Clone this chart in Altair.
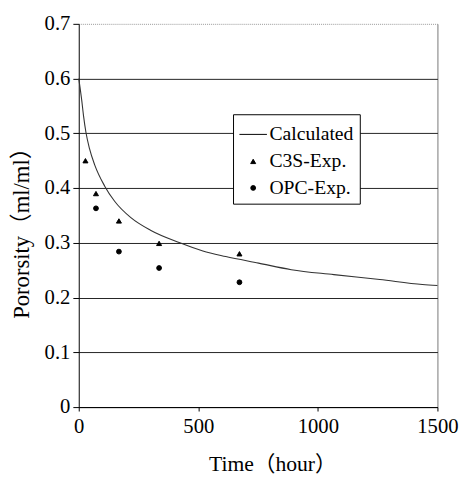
import altair as alt
import pandas as pd

# Calculated curve
calc_time = [0, 5, 12, 20, 30, 45, 67, 108, 150, 218, 300, 423, 519, 615, 752, 889, 1067, 1259, 1437, 1500]
calc_por = [0.600, 0.585, 0.562, 0.532, 0.502, 0.472, 0.442, 0.404, 0.376, 0.346, 0.323, 0.300,
            0.285, 0.275, 0.263, 0.251, 0.242, 0.233, 0.224, 0.222]

# Experimental data
c3s_time = [28, 72, 168, 336, 672]
c3s_por = [0.450, 0.390, 0.340, 0.299, 0.280]
opc_time = [72, 168, 336, 672]
opc_por = [0.363, 0.284, 0.254, 0.228]

series_names = ["Calculated", "C3S-Exp.", "OPC-Exp."]
x_ticks = [0, 500, 1000, 1500]
y_ticks = [0, 0.1, 0.2, 0.3, 0.4, 0.5, 0.6, 0.7]

calc_df = pd.DataFrame({"t": calc_time, "p": calc_por, "series": "Calculated"})
exp_df = pd.concat([
    pd.DataFrame({"t": c3s_time, "p": c3s_por, "series": "C3S-Exp."}),
    pd.DataFrame({"t": opc_time, "p": opc_por, "series": "OPC-Exp."}),
])

FONT = "Liberation Serif, Noto Sans CJK JP"

x_enc = alt.X("t:Q", scale=alt.Scale(domain=[0, 1500], nice=False),
              axis=alt.Axis(values=x_ticks, format="d", title="Time（hour）", titleFontSize=22,
                            titleFont=FONT, titleFontWeight="normal", titleColor="black",
                            titleX=197, titleY=65, titleBaseline="alphabetic",
                            labelFont=FONT, labelFontSize=21, labelColor="black",
                            labelPadding=5, tickSize=4, tickColor="black",
                            domainColor="black", labelFlush=False,
                            grid=True, gridColor="#777",
                            gridOpacity={"condition": {"test": "datum.value >= 1499", "value": 1}, "value": 0}))
y_enc = alt.Y("p:Q", scale=alt.Scale(domain=[0, 0.7], nice=False),
              axis=alt.Axis(values=y_ticks, title="Pororsity（ml/ml）", titleFontSize=23,
                            titleFont=FONT, titleFontWeight="normal", titleColor="black",
                            titleX=-58, titleY=207, titleBaseline="middle",
                            labelFont=FONT, labelFontSize=21, labelColor="black",
                            labelExpr="datum.value == 0 ? '0' : format(datum.value, '.1f')",
                            labelPadding=3, tickSize=6, tickColor="black",
                            domainColor="black", labelFlush=False,
                            grid=True,
                            gridColor={"condition": {"test": "datum.value >= 0.69", "value": "#999"}, "value": "#222"},
                            gridDash={"condition": {"test": "datum.value >= 0.69", "value": [1, 1]}, "value": []}))

line = alt.Chart(calc_df).mark_line(color="#333", strokeWidth=1.1, interpolate="monotone").encode(
    x=x_enc, y=y_enc
)

points = alt.Chart(exp_df).mark_point(filled=True, fill="black", stroke="black", strokeWidth=1,
                                      opacity=1).encode(
    x=x_enc, y=y_enc,
    shape=alt.Shape("series:N",
                    scale=alt.Scale(domain=series_names, range=["stroke", "triangle-up", "circle"]),
                    legend=alt.Legend(title=None, orient="none", legendX=157, legendY=92,
                                      fillColor="white", strokeColor="black",
                                      padding=6, rowPadding=7, labelOffset=2,
                                      labelFont=FONT, labelFontSize=20, labelColor="black",
                                      symbolFillColor="black", symbolStrokeColor="black",
                                      symbolStrokeWidth=1, symbolOpacity=1)),
    size=alt.Size("series:N",
                  scale=alt.Scale(type="ordinal", domain=series_names, range=[784, 26, 24]),
                  legend=alt.Legend(title=None, orient="none", legendX=157, legendY=92)),
)

chart = alt.layer(line, points).properties(
    width=365, height=390,
    autosize=alt.AutoSizeParams(type="none"),
    padding={"left": 72, "top": 12, "right": 25, "bottom": 66},
    background="white",
).configure_view(stroke=None)

chart.save("out.html", embed_options={"renderer": "svg", "actions": False})
